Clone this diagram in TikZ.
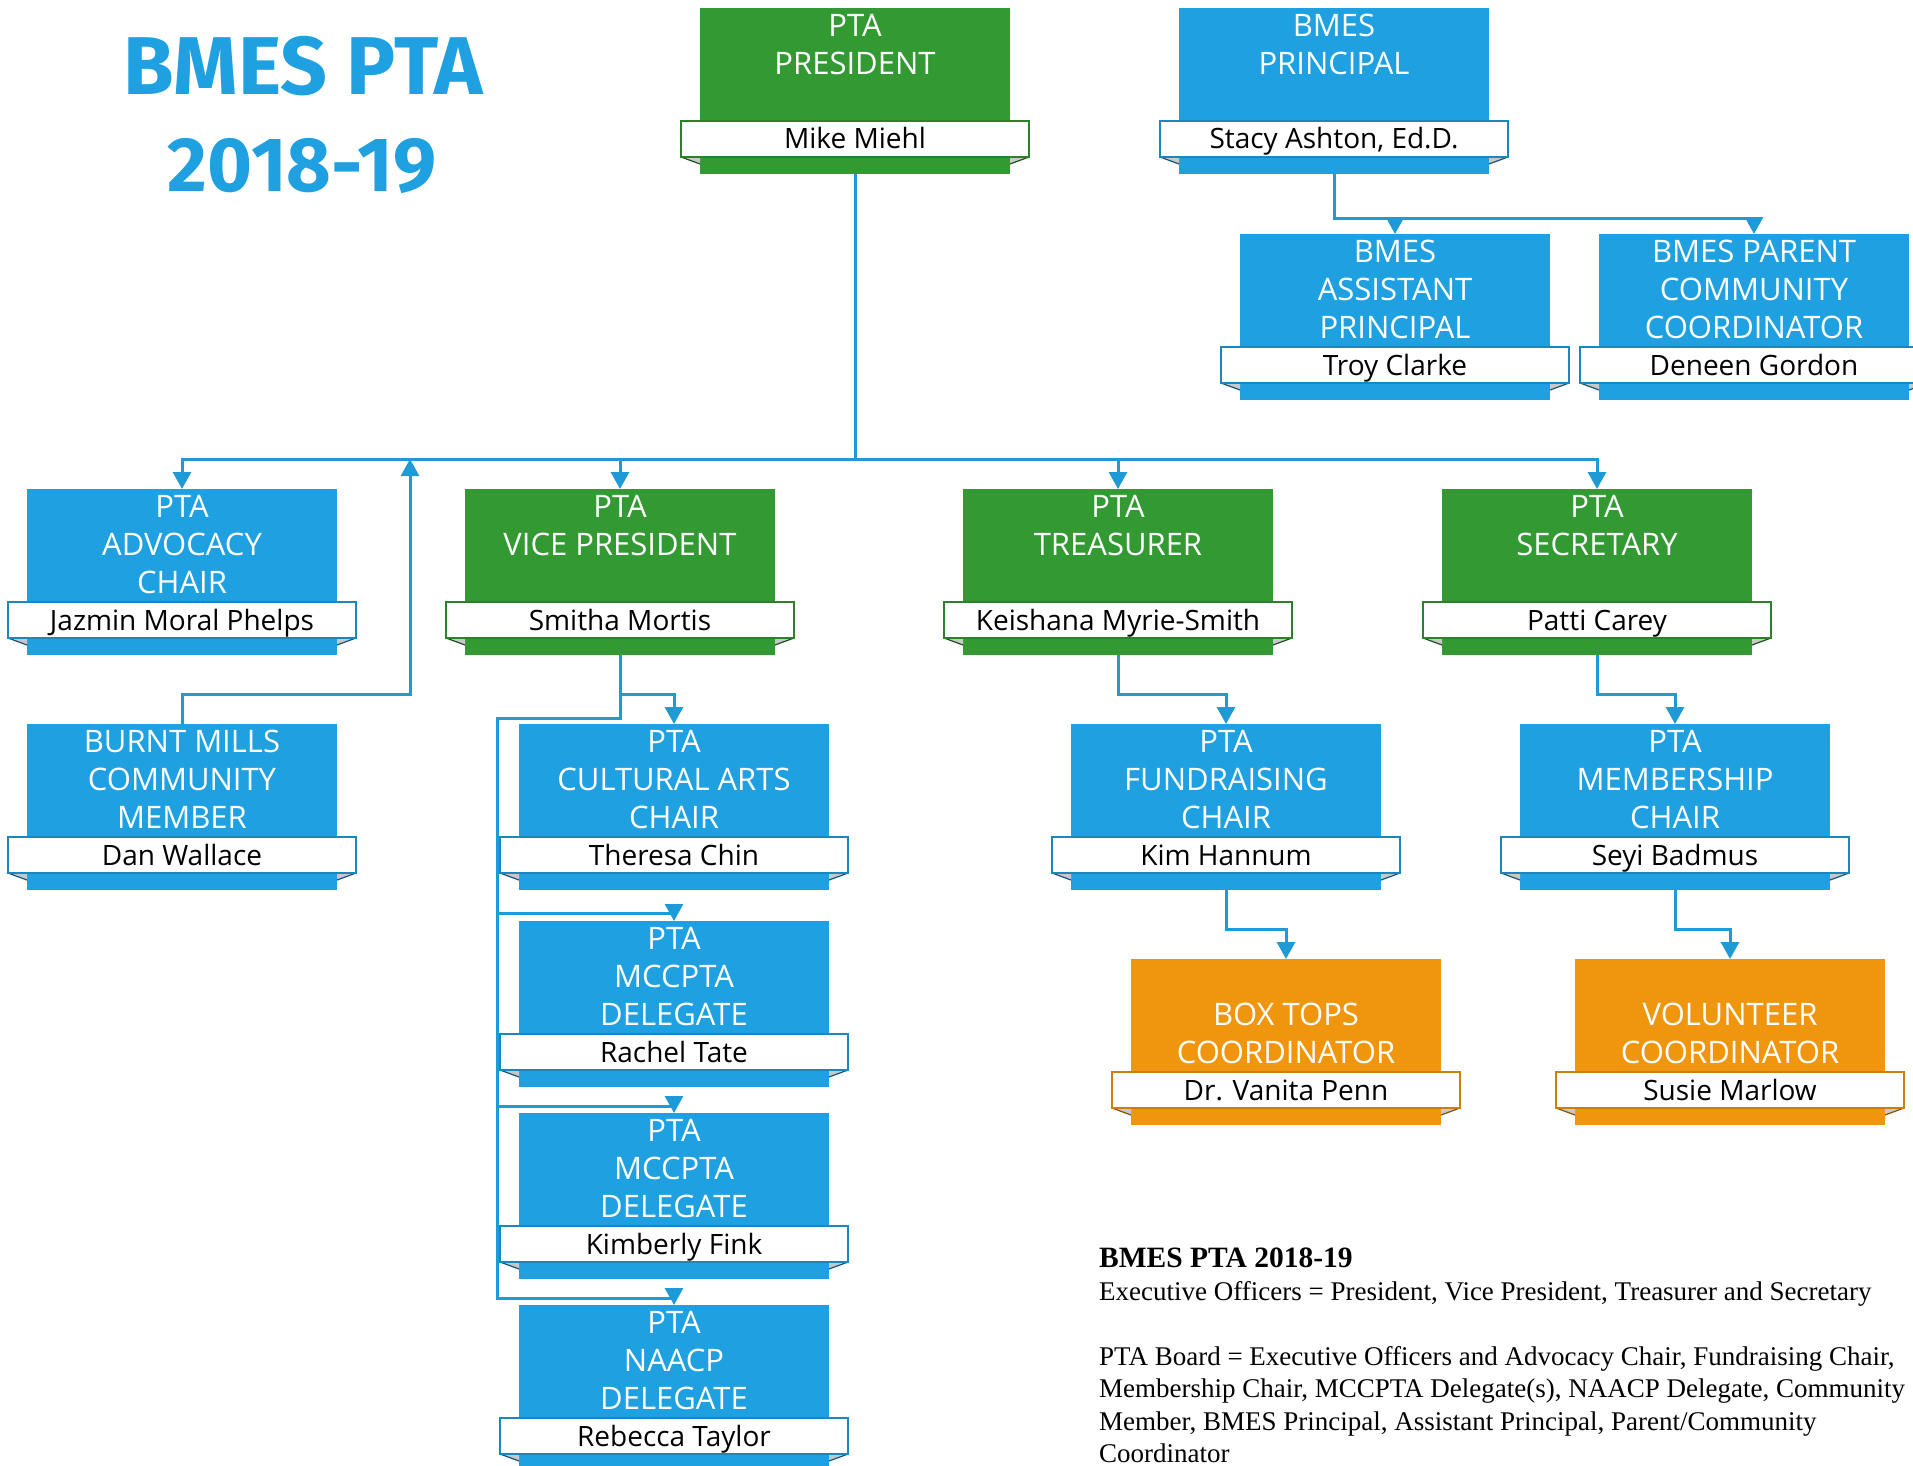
\documentclass[tikz,border=0pt]{standalone}
\usepackage{fontspec}
\setmainfont{Open Sans}
\newfontfamily\titlefont{Fira Sans}
\newfontfamily\notefont{Liberation Serif}
\usetikzlibrary{arrows.meta,calc}
\definecolor{bbox}{RGB}{30,160,225}
\definecolor{gbox}{RGB}{51,153,51}
\definecolor{obox}{RGB}{240,150,14}
\definecolor{lin}{RGB}{30,154,214}
\definecolor{foldgray}{RGB}{200,200,200}
\tikzset{
  boxnode/.style={minimum width=310pt, minimum height=166pt, inner sep=0pt, outer sep=0pt, draw=none},
  bannernode/.style={minimum width=348pt, minimum height=36pt, inner sep=0pt, outer sep=0pt, fill=white, line width=1.5pt},
  titletext/.style={anchor=north, inner sep=0pt, text=white, align=center, font=\fontsize{31}{38}\selectfont},
  nametext/.style={anchor=base, inner sep=0pt, text=black, font=\fontsize{28}{34}\selectfont},
  conn/.style={draw=lin, line width=3pt},
  arr/.style={conn, -{Triangle[length=17pt,width=18pt]}},
}
\newcommand\orgbox[7]{%
\begin{scope}[shift={(#2,#3)}]
  \node[boxnode, fill=#4] (#1) at (155,83) {};
  \fill[foldgray] (-19,149) -- (0,149) -- (0,156) -- cycle;
  \draw[#4!55!black, line width=1.2pt] (-19,149) -- (0,156);
  \fill[foldgray] (329,149) -- (310,149) -- (310,156) -- cycle;
  \draw[#4!55!black, line width=1.2pt] (329,149) -- (310,156);
  \node[bannernode, draw=#4!85!black] (#1-b) at (155,131) {};
  \node[titletext] (#1-t) at (155,#5) {#6};
  \node[nametext] (#1-n) at (155,141) {#7};
\end{scope}}
\begin{document}
\begin{tikzpicture}[x=1pt, y=-1pt]
\fill[white] (0,0) rectangle (1913,1466);
\useasboundingbox (0,0) rectangle (1913,1466);

% title
\node[anchor=base, inner sep=0pt, text=bbox, font=\titlefont\bfseries\fontsize{82}{90}\selectfont] (title1) at (303,95) {BMES PTA};
\node[anchor=base, inner sep=0pt, text=bbox, font=\titlefont\bfseries\fontsize{77}{90}\selectfont] (title2) at (302,192) {2018-19};

% boxes
\orgbox{pres}{700}{8}{gbox}{6}{PTA\\PRESIDENT}{Mike Miehl}
\orgbox{prin}{1179}{8}{bbox}{6}{BMES\\PRINCIPAL}{Stacy Ashton, Ed.D.}
\orgbox{asst}{1240}{234}{bbox}{6}{BMES\\ASSISTANT\\PRINCIPAL}{Troy Clarke}
\orgbox{pcc}{1599}{234}{bbox}{6}{BMES PARENT\\COMMUNITY\\COORDINATOR}{Deneen Gordon}
\orgbox{adv}{27}{489}{bbox}{6}{PTA\\ADVOCACY\\CHAIR}{Jazmin Moral Phelps}
\orgbox{vp}{465}{489}{gbox}{6}{PTA\\VICE PRESIDENT}{Smitha Mortis}
\orgbox{tre}{963}{489}{gbox}{6}{PTA\\TREASURER}{Keishana Myrie-Smith}
\orgbox{sec}{1442}{489}{gbox}{6}{PTA\\SECRETARY}{Patti Carey}
\orgbox{bmc}{27}{724}{bbox}{6}{BURNT MILLS\\COMMUNITY\\MEMBER}{Dan Wallace}
\orgbox{cult}{519}{724}{bbox}{6}{PTA\\CULTURAL ARTS\\CHAIR}{Theresa Chin}
\orgbox{fund}{1071}{724}{bbox}{6}{PTA\\FUNDRAISING\\CHAIR}{Kim Hannum}
\orgbox{mem}{1520}{724}{bbox}{6}{PTA\\MEMBERSHIP\\CHAIR}{Seyi Badmus}
\orgbox{mcca}{519}{921}{bbox}{6}{PTA\\MCCPTA\\DELEGATE}{Rachel Tate}
\orgbox{mccb}{519}{1113}{bbox}{6}{PTA\\MCCPTA\\DELEGATE}{Kimberly Fink}
\orgbox{naacp}{519}{1305}{bbox}{6}{PTA\\NAACP\\DELEGATE}{Rebecca Taylor}
\orgbox{boxt}{1131}{959}{obox}{44}{BOX TOPS\\COORDINATOR}{Dr. Vanita Penn}
\orgbox{vol}{1575}{959}{obox}{44}{VOLUNTEER\\COORDINATOR}{Susie Marlow}

% helper coordinates
\coordinate (bus) at (0,459);
\coordinate (busjoin) at (410,459);
\coordinate (vpl) at (497,718);

% connectors
\draw[arr] (pres.south) -- (pres.south |- bus) -| (adv.north);
\draw[arr] (pres.south) -- (pres.south |- bus) -| (vp.north);
\draw[arr] (pres.south) -- (pres.south |- bus) -| (tre.north);
\draw[arr] (pres.south) -- (pres.south |- bus) -| (sec.north);
\draw[arr] (bmc.north) -- ++(0,-30) -| (busjoin);
\draw[arr] (prin.south) -- ++(0,44) -| (asst.north);
\draw[arr] (prin.south) -- ++(0,44) -| (pcc.north);
\draw[arr] (vp.south) -- ++(0,39) -| (cult.north);
\draw[arr] (vp.south) |- (vpl) |- ($(mcca.north)+(0,-8)$) -- (mcca.north);
\draw[arr] (vp.south) |- (vpl) |- ($(mccb.north)+(0,-7)$) -- (mccb.north);
\draw[arr] (vp.south) |- (vpl) |- ($(naacp.north)+(0,-7)$) -- (naacp.north);
\draw[arr] (tre.south) -- ++(0,39) -| (fund.north);
\draw[arr] (sec.south) -- ++(0,39) -| (mem.north);
\draw[arr] (fund.south) -- ++(0,39) -| (boxt.north);
\draw[arr] (mem.south) -- ++(0,39) -| (vol.north);

% note
\node[anchor=north west, inner sep=0pt, align=left, font=\notefont\fontsize{27}{32.5}\selectfont] (note) at (1099,1248)
{{\fontsize{29.5}{32.5}\selectfont\bfseries BMES PTA 2018-19}\\
Executive Officers = President, Vice President, Treasurer and Secretary\\[32.5pt]
PTA Board = Executive Officers and Advocacy Chair, Fundraising Chair,\\
Membership Chair, MCCPTA Delegate(s), NAACP Delegate, Community\\
Member, BMES Principal, Assistant Principal, Parent/Community\\
Coordinator};
\end{tikzpicture}
\end{document}
